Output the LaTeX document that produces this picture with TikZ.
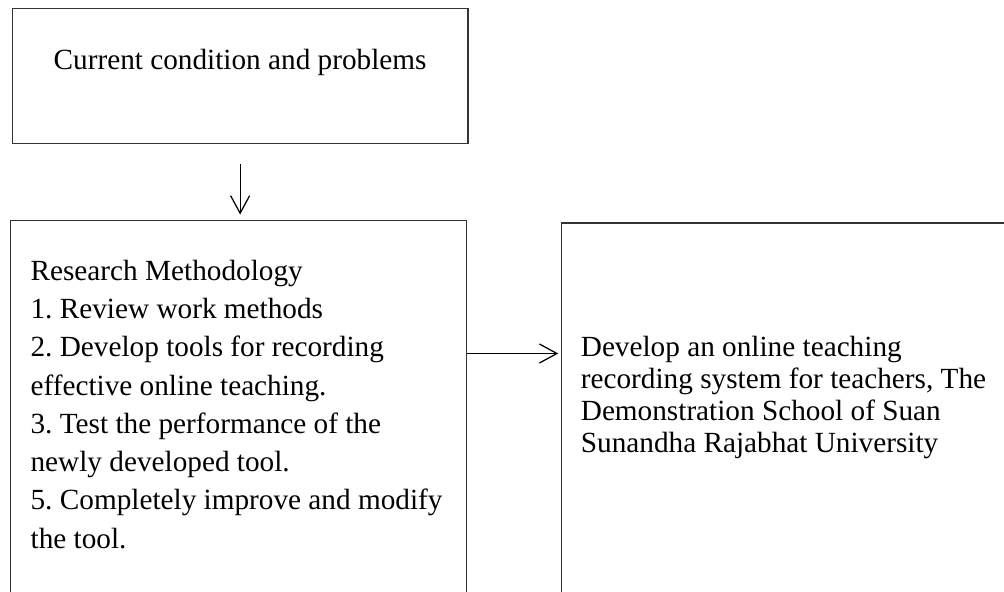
\documentclass[tikz,border=0pt]{standalone}
\usepackage{fontspec}
\setmainfont{Liberation Serif}
\frenchspacing
\usetikzlibrary{positioning,arrows.meta}
\tikzset{every node/.style={align=flush left}, >={Straight Barb[length=7pt,width=7.6pt]}, font=\fontsize{11.7pt}{15.3pt}\selectfont}
\tikzset{box/.style={rectangle, draw=black!80, line width=0.5pt, inner ysep=0pt}}

\begin{document}
\begin{tikzpicture}[line width=0.5pt]
            \useasboundingbox (0,0) rectangle (401.6pt,236.4pt);
            \clip (0,0) rectangle (401.6pt,236.4pt);
            \node [box,align=center,anchor=north west,minimum width=182.2pt,text height=24.6pt,text depth=29.4pt] (cond) at (4.7pt,233.3pt) {Current condition and problems};
            \node [box,text width=166.4pt,inner xsep=8pt,text height=24.1pt,text depth=128.7pt] (meth) [below=30.2pt of cond.south west,anchor=north west,xshift=-0.7pt] {Research Methodology\\1. Review work methods\\2. Develop tools for recording\\effective online teaching.\\3. Test the performance of the\\newly developed tool.\\5. Completely improve and modify\\the tool.};
            \node [box,text width=172pt,inner xsep=7.8pt,text height=53.6pt,text depth=98.4pt,font=\fontsize{11.7pt}{12.8pt}\selectfont] (res) [right=37.4pt of meth.north east,anchor=north west,yshift=-1.1pt] {Develop an online teaching\\recording system for teachers, The\\Demonstration School of Suan\\Sunandha Rajabhat University};
            \coordinate (link) at ([yshift=-53.6pt]meth.north east);
            \draw[->,shorten <=8pt,shorten >=2pt] (cond.south) -- (cond.south |- meth.north);
            \draw[->,shorten >=1pt] (link) -- (link -| res.west);
        \end{tikzpicture}
\end{document}
